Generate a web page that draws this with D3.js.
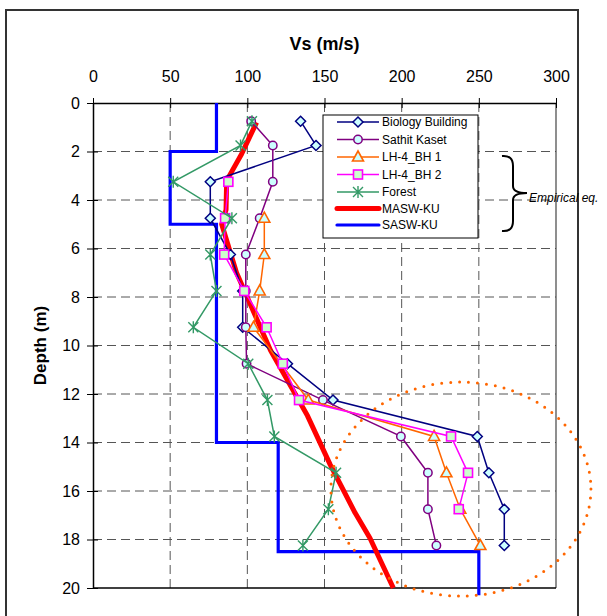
<!DOCTYPE html>
<html>
<head>
<meta charset="utf-8">
<script src="https://cdn.jsdelivr.net/npm/d3@7"></script>
<style>
  html, body { margin: 0; padding: 0; background: #fff; }
  svg { display: block; font-family: Arial, "Liberation Sans", sans-serif; }
</style>
</head>
<body>
<svg id="chart" width="607" height="616"></svg>
<script>
// Shear-wave velocity profiles: depth (m) against Vs (m/s)
const vsTicks = [0, 50, 100, 150, 200, 250, 300];
const depthTicks = [0, 2, 4, 6, 8, 10, 12, 14, 16, 18, 20];

// Empirical estimates from boreholes: [depth, Vs]
const biologyBuilding = [[0.75,134.5],[1.75,144.5],[3.25,76],[4.75,76],[6.25,89],[7.75,97],[9.25,97],[10.75,126],[12.25,155.5],[13.75,249],[15.25,256.5],[16.75,266.5],[18.25,266.5]];
const sathitKaset = [[0.75,102.5],[1.75,116.5],[3.25,116.5],[4.75,108],[6.25,99],[7.75,99],[9.25,99],[10.75,99.5],[12.25,149],[13.75,199.5],[15.25,217],[16.75,217],[18.25,222.5]];
const lh4Bh1 = [[4.75,111],[6.25,111],[7.75,108],[9.25,104],[12.25,139.5],[13.75,221],[15.25,229],[16.75,238],[18.25,251]];
const lh4Bh2 = [[3.25,87.7],[4.75,85.6],[6.25,85],[7.75,98],[9.25,112.5],[10.75,123],[12.25,133.5],[13.75,232],[15.25,243],[16.75,237]];
const forest = [[0.75,103],[1.75,95.6],[3.25,52],[4.75,90],[6.25,76],[7.75,80],[9.25,65],[10.75,100.6],[12.25,113],[13.75,117.5],[15.25,157.5],[16.75,152.5],[18.25,136]];

// Surface-wave profiles
const maswKu = [[0.8,106],[2.1,96.3],[3.2,86.6],[4.4,86.2],[5.0,83.4],[7.0,93],[10.2,115],[12.9,139],[14.9,153.6],[16.9,169.8],[17.95,179.5],[20,194.6]];
const saswKu = [[0,80],[2,80],[2,50],[5,50],[5,80],[14,80],[14,120],[18.5,120],[18.5,250],[20.3,250]];

// Highlighted deep zone (centre in data units)
const highlightCentre = [15.92, 238.4];

const svg = d3.select("#chart");
const x = d3.scaleLinear().domain([0, 300]).range([93, 556]);
const y = d3.scaleLinear().domain([0, 20]).range([103, 588]);

// outer frame
svg.append("rect").attr("x", 6).attr("y", 10).attr("width", 572).attr("height", 640)
  .attr("fill", "none").attr("stroke", "#333").attr("stroke-width", 2);

// grid
const grid = svg.append("g").attr("stroke", "#555").attr("stroke-width", 1).attr("stroke-dasharray", "9,5");
grid.selectAll("line.v").data(vsTicks.filter(v => v > 0 && v < 300)).join("line")
  .attr("x1", d => x(d)).attr("x2", d => x(d)).attr("y1", y(0)).attr("y2", y(20));
grid.selectAll("line.h").data(depthTicks.filter(d => d > 0 && d < 20)).join("line")
  .attr("y1", d => y(d)).attr("y2", d => y(d)).attr("x1", x(0)).attr("x2", x(300));

// plot borders
svg.append("line").attr("x1", x(300)).attr("x2", x(300)).attr("y1", y(0)).attr("y2", y(20)).attr("stroke", "#444").attr("stroke-width", 1.2);
svg.append("line").attr("x1", x(0)).attr("x2", x(300)).attr("y1", y(20)).attr("y2", y(20)).attr("stroke", "#000").attr("stroke-width", 1.5);

// axes
const xAxis = svg.append("g").attr("transform", `translate(0,${y(0)})`)
  .call(d3.axisTop(x).tickValues(vsTicks).tickSizeOuter(0).tickSizeInner(5).tickPadding(16));
xAxis.selectAll(".tick line").attr("y2", -5).attr("y1", 5);
const yAxis = svg.append("g").attr("transform", `translate(${x(0)},0)`)
  .call(d3.axisLeft(y).tickValues(depthTicks).tickSizeOuter(0).tickSizeInner(6).tickPadding(7));
yAxis.selectAll(".tick line").attr("x2", -6).attr("x1", 5);
svg.selectAll(".domain").attr("stroke", "#000").attr("stroke-width", 1.5);
svg.selectAll(".tick line").attr("stroke", "#000").attr("stroke-width", 1);
svg.selectAll(".tick text").attr("font-size", 16).attr("font-family", "Arial, 'Liberation Sans', sans-serif").attr("fill", "#000");

svg.append("text").attr("x", (x(0) + x(300)) / 2).attr("y", 50).attr("text-anchor", "middle")
  .attr("font-size", 18).attr("font-weight", "bold").text("Vs (m/s)");
svg.append("text").attr("transform", `translate(46,${(y(0) + y(20)) / 2}) rotate(-90)`).attr("text-anchor", "middle")
  .attr("font-size", 17).attr("font-weight", "bold").text("Depth (m)");

const line = d3.line().x(d => x(d[1])).y(d => y(d[0]));

// marker shapes
function marker(g, type, color, fill) {
  if (type === "diamond") {
    g.append("path").attr("d", "M0,-5L5,0L0,5L-5,0Z").attr("fill", fill).attr("stroke", color).attr("stroke-width", 1.5);
  } else if (type === "circle") {
    g.append("circle").attr("r", 4.2).attr("fill", fill).attr("stroke", color).attr("stroke-width", 1.5);
  } else if (type === "triangle") {
    g.append("path").attr("d", "M0,-6L5.5,4L-5.5,4Z").attr("fill", fill).attr("stroke", color).attr("stroke-width", 1.6);
  } else if (type === "square") {
    g.append("rect").attr("x", -4.5).attr("y", -4.5).attr("width", 9).attr("height", 9).attr("fill", fill).attr("stroke", color).attr("stroke-width", 1.6);
  } else if (type === "star") {
    g.append("path").attr("d", "M-5,-5L5,5M-5,5L5,-5M0,-6L0,6").attr("stroke", color).attr("stroke-width", 1.4).attr("fill", "none");
  }
}

const series = [
  { name: "Biology Building", data: biologyBuilding, color: "#000080", m: "diamond", fill: "#ccffff", w: 1.5 },
  { name: "Sathit Kaset", data: sathitKaset, color: "#800080", m: "circle", fill: "#ccffff", w: 1.5 },
  { name: "LH-4_BH 1", data: lh4Bh1, color: "#ff6600", m: "triangle", fill: "#ccffff", w: 1.5 },
  { name: "LH-4_BH 2", data: lh4Bh2, color: "#ff00ff", m: "square", fill: "#ccffcc", w: 1.5 },
  { name: "Forest", data: forest, color: "#339966", m: "star", fill: "none", w: 1.5 },
];
const profiles = [
  { name: "MASW-KU", data: maswKu, color: "#ff0000", w: 5 },
  { name: "SASW-KU", data: saswKu, color: "#0000ff", w: 3.2 },
];

// step and smooth surface-wave profiles underneath
svg.append("path").datum(saswKu).attr("d", line).attr("fill", "none").attr("stroke", "#0000ff").attr("stroke-width", 3.2);
svg.append("path").datum(maswKu).attr("d", line).attr("fill", "none").attr("stroke", "#ff0000").attr("stroke-width", 5).attr("stroke-linejoin", "round");

series.forEach(s => {
  svg.append("path").datum(s.data).attr("d", line).attr("fill", "none").attr("stroke", s.color).attr("stroke-width", s.w);
  s.data.forEach(p => marker(svg.append("g").attr("transform", `translate(${x(p[1])},${y(p[0])})`), s.m, s.color, s.fill));
});

// legend
const lg = svg.append("g");
lg.append("rect").attr("x", 323).attr("y", 115).attr("width", 155).attr("height", 123).attr("fill", "#fff").attr("stroke", "#000").attr("stroke-width", 1);
const rowsY = [122, 139.5, 157, 174.5, 192, 208.5, 225];
series.forEach((s, i) => {
  lg.append("line").attr("x1", 337).attr("x2", 379).attr("y1", rowsY[i]).attr("y2", rowsY[i]).attr("stroke", s.color).attr("stroke-width", s.w);
  marker(lg.append("g").attr("transform", `translate(358,${rowsY[i]})`), s.m, s.color, s.fill);
  lg.append("text").attr("x", 382).attr("y", rowsY[i]).attr("dy", "0.35em").attr("font-size", 12).text(s.name);
});
profiles.forEach((s, j) => {
  const i = series.length + j;
  lg.append("line").attr("x1", 337).attr("x2", 379).attr("y1", rowsY[i]).attr("y2", rowsY[i]).attr("stroke", s.color).attr("stroke-width", s.w).attr("stroke-linecap", "round");
  lg.append("text").attr("x", 382).attr("y", rowsY[i]).attr("dy", "0.35em").attr("font-size", 12).text(s.name);
});

// brace and note for the empirical relations
svg.append("path")
  .attr("d", "M502,156 Q513,155 513,166 L513,186 Q513,193 527,193 Q513,193 513,200 L513,221 Q513,232 502,231")
  .attr("fill", "none").attr("stroke", "#000").attr("stroke-width", 2);
svg.append("text").attr("x", 529).attr("y", 202).attr("font-size", 12).attr("font-style", "italic").text("Empirical eq.");

// dotted ellipse around the deep layer
svg.append("ellipse").attr("cx", x(highlightCentre[1])).attr("cy", y(highlightCentre[0]))
  .attr("rx", 130).attr("ry", 107).attr("fill", "none").attr("stroke", "#ff6600").attr("stroke-width", 3)
  .attr("stroke-dasharray", "0,9").attr("stroke-linecap", "round");
</script>
</body>
</html>
